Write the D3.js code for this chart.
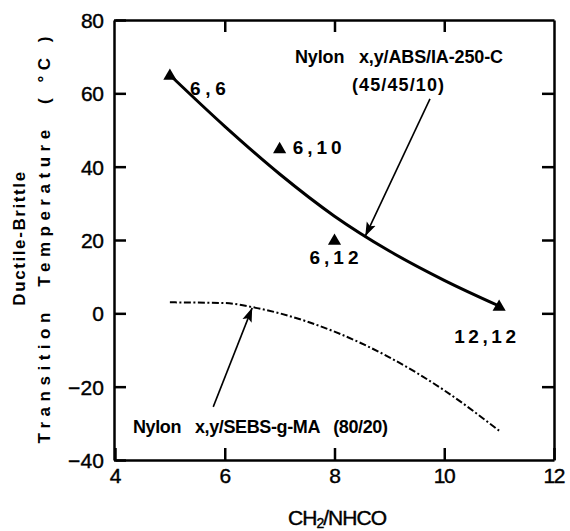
<!doctype html>
<html lang="en">
<head>
<meta charset="utf-8">
<script src="https://cdn.jsdelivr.net/npm/d3@7"></script>
<style>
  body { margin: 0; background: #fff; }
  svg { display: block; }
  text { font-family: "Liberation Sans", Arial, sans-serif; fill: #000; white-space: pre; }
  .narrow { font-family: "Liberation Sans Narrow", "Arial Narrow", "Liberation Sans", Arial, sans-serif !important; }
</style>
</head>
<body>
<div id="chart"></div>
<script>
// data
var xTicks = [4, 6, 8, 10, 12];
var yTicks = [80, 60, 40, 20, 0, -20, -40];

// nylon x,y / ABS / IA-250-C (45/45/10): measured points + smoothed trend
var nylonNames = ["6,6", "6,10", "6,12", "12,12"];
var nylonX = [5, 7, 8, 11];
var nylonY = [65, 45, 20, 2];
var absCurveX = [5, 6, 7, 8, 9, 10, 11];
var absCurveY = [65, 51, 38, 26.5, 17, 9, 2];

// nylon x,y / SEBS-g-MA (80/20) trend
var sebsCurveX = [5, 6, 6.5, 7, 8, 9, 10, 11];
var sebsCurveY = [3, 2.8, 1.7, 0, -5, -12, -21, -32];

var width = 570, height = 531;

var x = d3.scaleLinear().domain([4, 12]).range([115, 554]);
var y = d3.scaleLinear().domain([-40, 80]).range([460, 20]);

var svg = d3.select("#chart").append("svg")
    .attr("width", width)
    .attr("height", height);

// arrowhead
svg.append("defs").append("marker")
    .attr("id", "arr")
    .attr("viewBox", "0 0 10 10")
    .attr("refX", 10).attr("refY", 5)
    .attr("markerWidth", 14).attr("markerHeight", 14)
    .attr("markerUnits", "userSpaceOnUse")
    .attr("orient", "auto")
    .append("path")
    .attr("d", "M0,1.5 L10,5 L0,8.5 L2,5 Z")
    .attr("fill", "#000");

function lenFor(s) { return 13 * s.length - 3; }

// bottom axis (ticks point up into plot)
var gx = svg.append("g")
    .attr("transform", "translate(0," + y(-40) + ")")
    .call(d3.axisBottom(x).tickValues(xTicks).tickSizeInner(-12).tickSizeOuter(0).tickPadding(8));
gx.selectAll("text")
    .attr("class", "narrow")
    .style("font-size", "21px")
    .attr("stroke", "#000").attr("stroke-width", 0.4)
    .attr("textLength", function (d) { return lenFor(String(d)) - 1; })
    .attr("lengthAdjust", "spacing");

// left axis
var gy = svg.append("g")
    .attr("transform", "translate(" + (x(4) - 1) + ",0)")
    .call(d3.axisLeft(y).tickValues(yTicks).tickSizeInner(-12).tickSizeOuter(0).tickPadding(10));
gy.selectAll("text")
    .attr("class", "narrow")
    .style("font-size", "21px")
    .attr("stroke", "#000").attr("stroke-width", 0.4)
    .attr("dy", "0.36em")
    .attr("textLength", function (d) { return lenFor(String(d)); })
    .attr("lengthAdjust", "spacing");

// top and right frame with inward ticks
svg.append("g")
    .attr("transform", "translate(0," + y(80) + ")")
    .call(d3.axisTop(x).tickValues([6, 8, 10]).tickSizeInner(-12).tickSizeOuter(0).tickFormat(""));
svg.append("g")
    .attr("transform", "translate(" + x(12) + ",0)")
    .call(d3.axisRight(y).tickValues([60, 40, 20, 0, -20]).tickSizeInner(-12).tickSizeOuter(0).tickFormat(""));

svg.selectAll(".domain").attr("stroke", "#000").attr("stroke-width", 2.5);
svg.selectAll(".tick line").attr("stroke", "#000").attr("stroke-width", 2.5);

// curves
var line = d3.line()
    .x(function (d) { return x(d[0]); })
    .y(function (d) { return y(d[1]); })
    .curve(d3.curveMonotoneX);

svg.append("path")
    .datum(d3.zip(absCurveX, absCurveY))
    .attr("d", line)
    .attr("fill", "none")
    .attr("stroke", "#000")
    .attr("stroke-width", 3);

svg.append("path")
    .datum(d3.zip(sebsCurveX, sebsCurveY))
    .attr("d", line)
    .attr("fill", "none")
    .attr("stroke", "#000")
    .attr("stroke-width", 2)
    .attr("stroke-dasharray", "7,2.5,2,2.5");

// triangles
var tri = d3.symbol().type(d3.symbolTriangle).size(75);
svg.selectAll(".pt")
    .data(d3.zip(nylonX, nylonY))
    .enter().append("path")
    .attr("class", "pt")
    .attr("d", tri)
    .attr("transform", function (d) { return "translate(" + x(d[0]) + "," + (y(d[1]) + 1) + ")"; })
    .attr("fill", "#000");

// point labels (offsets in px)
var labelOff = [[20, 20], [13, 6], [-25, 24], [-45, 37]];
svg.selectAll(".plab")
    .data(nylonNames)
    .enter().append("text")
    .attr("class", "plab")
    .attr("x", function (d, i) { return x(nylonX[i]) + labelOff[i][0]; })
    .attr("y", function (d, i) { return y(nylonY[i]) + labelOff[i][1]; })
    .style("font-size", "19px")
    .style("font-weight", "bold")
    .attr("textLength", function (d) { return d.length * 13 - 3; })
    .attr("lengthAdjust", "spacing")
    .text(function (d) { return d; });

// annotations
svg.append("text")
    .attr("class", "narrow")
    .attr("x", x(7.28)).attr("y", 63)
    .style("font-size", "18px").style("font-weight", "bold")
    .attr("textLength", 208).attr("lengthAdjust", "spacing")
    .text("Nylon   x,y/ABS/IA-250-C");
svg.append("text")
    .attr("class", "narrow")
    .attr("x", 352).attr("y", 91)
    .style("font-size", "18px").style("font-weight", "bold")
    .attr("textLength", 92).attr("lengthAdjust", "spacing")
    .text("(45/45/10)");
svg.append("line")
    .attr("x1", x(9.74)).attr("y1", y(58.5))
    .attr("x2", x(8.56)).attr("y2", y(21))
    .attr("stroke", "#000").attr("stroke-width", 1.6)
    .attr("marker-end", "url(#arr)");

svg.append("text")
    .attr("class", "narrow")
    .attr("x", 133).attr("y", 433)
    .style("font-size", "18px").style("font-weight", "bold")
    .attr("textLength", 255).attr("lengthAdjust", "spacing")
    .text("Nylon   x,y/SEBS-g-MA   (80/20)");
svg.append("line")
    .attr("x1", x(5.79)).attr("y1", y(-25.5))
    .attr("x2", x(6.5)).attr("y2", y(1.5))
    .attr("stroke", "#000").attr("stroke-width", 1.6)
    .attr("marker-end", "url(#arr)");

// axis titles
var xt = svg.append("text")
    .attr("class", "narrow")
    .attr("x", 288).attr("y", 525)
    .style("font-size", "21px")
    .attr("stroke", "#000").attr("stroke-width", 0.4)
    .attr("textLength", 99).attr("lengthAdjust", "spacing");
xt.append("tspan").text("CH");
xt.append("tspan").attr("dy", 3).style("font-size", "14px").text("2");
xt.append("tspan").attr("dy", -3).text("/NHCO");

var yt = svg.append("g").attr("transform", "translate(0,240) rotate(-90)");
yt.append("text")
    .attr("x", 2).attr("y", 25)
    .attr("text-anchor", "middle")
    .style("font-size", "17px").style("font-weight", "bold")
    .style("letter-spacing", "1.6px")
    .text("Ductile-Brittle");
yt.append("text")
    .attr("x", 0).attr("y", 50)
    .attr("text-anchor", "middle")
    .style("font-size", "17px").style("font-weight", "bold")
    .attr("textLength", 407).attr("lengthAdjust", "spacing")
    .text("Transition  Temperature  ( \u00b0C )");
</script>
</body>
</html>
